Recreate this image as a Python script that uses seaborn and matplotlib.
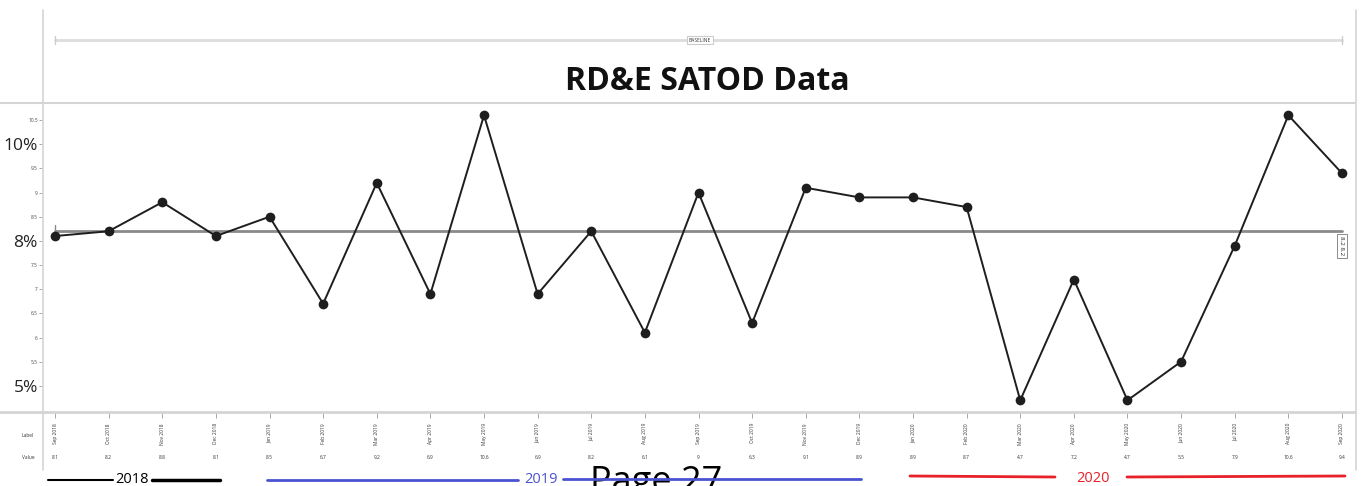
import numpy as np
import pandas as pd
import seaborn as sns
import matplotlib.pyplot as plt
import matplotlib.transforms as mtransforms
from matplotlib.lines import Line2D

# data
months = ['Sep 2018', 'Oct 2018', 'Nov 2018', 'Dec 2018',
          'Jan 2019', 'Feb 2019', 'Mar 2019', 'Apr 2019', 'May 2019', 'Jun 2019',
          'Jul 2019', 'Aug 2019', 'Sep 2019', 'Oct 2019', 'Nov 2019', 'Dec 2019',
          'Jan 2020', 'Feb 2020', 'Mar 2020', 'Apr 2020', 'May 2020', 'Jun 2020',
          'Jul 2020', 'Aug 2020', 'Sep 2020']
values = [8.1, 8.2, 8.8, 8.1, 8.5, 6.7, 9.2, 6.9, 10.6, 6.9, 8.2, 6.1,
          9.0, 6.3, 9.1, 8.9, 8.9, 8.7, 4.7, 7.2, 4.7, 5.5, 7.9, 10.6, 9.4]
value_text = ['8.1', '8.2', '8.8', '8.1', '8.5', '6.7', '9.2', '6.9', '10.6', '6.9',
              '8.2', '6.1', '9', '6.3', '9.1', '8.9', '8.9', '8.7', '4.7', '7.2',
              '4.7', '5.5', '7.9', '10.6', '9.4']
baseline_value = 8.2
y_ticks = [5, 5.5, 6, 6.5, 7, 7.5, 8, 8.5, 9, 9.5, 10, 10.5]
big_ticks = {5: '5%', 8: '8%', 10: '10%'}

df = pd.DataFrame({'idx': range(len(months)), 'month': months, 'value': values})

sns.set_style('white')
plt.rcParams['font.family'] = ['Open Sans', 'DejaVu Sans']

W, H = 1361, 486
fig = plt.figure(figsize=(W / 100, H / 100), dpi=100)
ax = fig.add_axes([42 / W, 1 - 412 / H, (1355 - 42) / W, (412 - 103) / H])

# reference (mean) line
ax.plot([0, len(months) - 1], [baseline_value] * 2, color='#8a8a8a', lw=2, zorder=1)
ax.plot([0, 0], [baseline_value, baseline_value + 0.12], color='#8a8a8a', lw=1, zorder=1)

sns.lineplot(data=df, x='idx', y='value', ax=ax, color='#1e1e1e', lw=1.4,
             marker='o', markersize=7, markeredgewidth=0, zorder=3)

ax.set_xlim(-0.243, len(months) - 1 + 0.243)
ax.set_ylim(4.458, 10.854)
for s in ax.spines.values():
    s.set_visible(False)

ax.set_xticks(df['idx'])
ax.set_xticklabels(months, rotation=90, fontsize=3.5, color='#333333')
ax.tick_params(axis='x', direction='out', length=4, width=0.6, color='#999999', pad=4, bottom=True)
ax.set_yticks(y_ticks)
ax.set_yticklabels([big_ticks.get(t, f'{t:g}') for t in y_ticks])
ax.tick_params(axis='y', direction='out', length=2, width=0.6, color='#999999', pad=1, left=True)
for t, lbl in zip(y_ticks, ax.get_yticklabels()):
    if t in big_ticks:
        lbl.set_fontsize(12.5)
        lbl.set_color('#222222')
    else:
        lbl.set_fontsize(3.5)
        lbl.set_color('#444444')
ax.set_xlabel('')
ax.set_ylabel('')

# label on right end of mean line
ax.text(len(months) - 1, baseline_value - 0.1, '8.2 8.2', rotation=-90, fontsize=4.5,
        ha='center', va='top',
        bbox=dict(boxstyle='square,pad=0.4', fc='white', ec='#777777', lw=0.6))

# value row under the axis
tr = mtransforms.blended_transform_factory(ax.transData, fig.transFigure)
for i, v in enumerate(value_text):
    ax.text(i, 1 - 457 / H, v, transform=tr, fontsize=3.5, ha='center', va='center', color='#333333')
fig.text(28 / W, 1 - 435 / H, 'Label', fontsize=3.5, ha='center', va='center', color='#333333')
fig.text(28 / W, 1 - 457 / H, 'Value', fontsize=3.5, ha='center', va='center', color='#333333')

# frame lines
frame = '#d4d4d4'
fig.add_artist(Line2D([0, 1355 / W], [1 - 103 / H] * 2, color=frame, lw=1.5))
fig.add_artist(Line2D([0, 1355 / W], [1 - 412 / H] * 2, color=frame, lw=2))
fig.add_artist(Line2D([43 / W] * 2, [1 - 10 / H, 1 - 470 / H], color=frame, lw=1.2))
fig.add_artist(Line2D([1356 / W] * 2, [1 - 10 / H, 1 - 470 / H], color=frame, lw=1.2))

# baseline range bar on top
ax.plot([0, len(months) - 1], [1 - 40 / H] * 2, transform=tr, color='#dddddd', lw=2, clip_on=False)
ax.plot([0, 0], [1 - 36 / H, 1 - 44 / H], transform=tr, color='#cccccc', lw=1, clip_on=False)
ax.plot([len(months) - 1] * 2, [1 - 36 / H, 1 - 44 / H], transform=tr, color='#cccccc', lw=1, clip_on=False)
fig.text(700 / W, 1 - 40 / H, 'BASELINE', fontsize=3.5, ha='center', va='center', color='#333333',
         bbox=dict(boxstyle='square,pad=0.3', fc='white', ec='#cccccc', lw=0.8))

fig.text(707 / W, 1 - 81 / H, 'RD&E SATOD Data', fontsize=23, fontweight='bold',
         ha='center', va='center', color='#111111')

# year annotations along the bottom
yb = 1 - 480 / H
fig.add_artist(Line2D([48 / W, 113 / W], [yb, yb], color='black', lw=1.5))
fig.add_artist(Line2D([152 / W, 220 / W], [yb, yb], color='black', lw=2.5))
fig.text(132 / W, 1 - 479 / H, '2018', fontsize=10.5, ha='center', va='center', color='black')
blue = '#4a52d0'
fig.add_artist(Line2D([267 / W, 518 / W], [1 - 480 / H] * 2, color=blue, lw=2))
fig.add_artist(Line2D([563 / W, 861 / W], [1 - 479 / H] * 2, color=blue, lw=2))
fig.text(541 / W, 1 - 479 / H, '2019', fontsize=10.5, ha='center', va='center', color=blue)
red = '#e8202a'
fig.add_artist(Line2D([910 / W, 1055 / W], [1 - 476 / H, 1 - 477 / H], color=red, lw=2))
fig.add_artist(Line2D([1127 / W, 1345 / W], [1 - 477 / H, 1 - 476 / H], color=red, lw=2))
fig.text(1093 / W, 1 - 478 / H, '2020', fontsize=10.5, ha='center', va='center', color=red)
fig.text(656 / W, 1 - 465 / H, 'Page 27', fontsize=26, ha='center', va='top', color='black', zorder=0)

fig.savefig('out.png', dpi=100)
